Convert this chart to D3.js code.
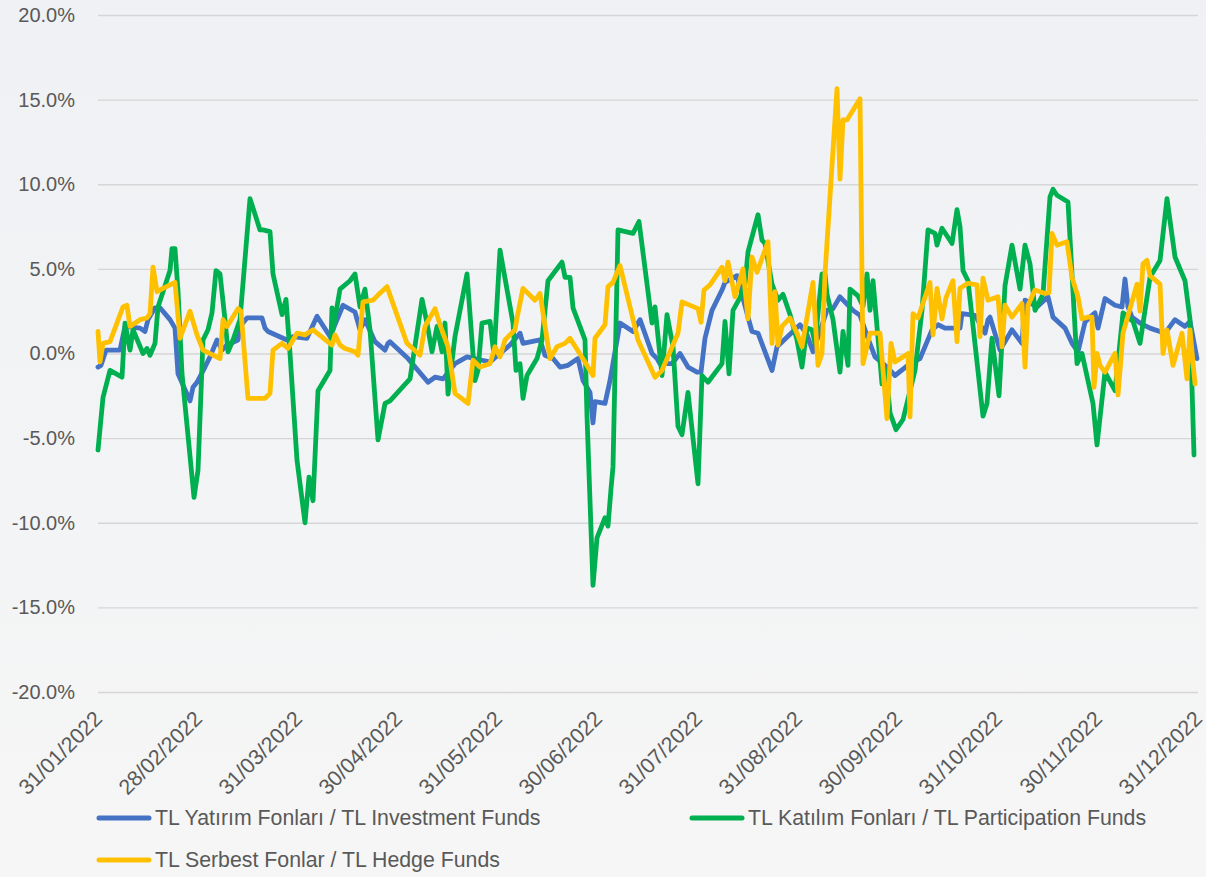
<!DOCTYPE html>
<html><head><meta charset="utf-8">
<script src="https://cdn.jsdelivr.net/npm/d3@7"></script>
<style>
html,body{margin:0;padding:0;background:#f3f4f6;}
svg{display:block;font-family:"Liberation Sans",Arial,sans-serif;}
</style></head>
<body><div id="chart"></div>
<script>
// x positions are in months since 31/01/2022 (0 = 31/01, 11 = 31/12), values in %
const xTickLabels = ["31/01/2022","28/02/2022","31/03/2022","30/04/2022","31/05/2022","30/06/2022","31/07/2022","31/08/2022","30/09/2022","31/10/2022","30/11/2022","31/12/2022"];
const yTicks = [-20,-15,-10,-5,0,5,10,15,20];
const seriesNames = ["TL Yatırım Fonları / TL Investment Funds","TL Katılım Fonları / TL Participation Funds","TL Serbest Fonlar / TL Hedge Funds"];

const investment = [[0,-0.8],[0.03,-0.7],[0.08,0.2],[0.22,0.2],[0.27,1.6],[0.42,1.5],[0.47,1.3],[0.50,2.0],[0.57,2.7],[0.62,2.7],[0.72,2.0],[0.77,1.5],[0.80,-1.2],[0.92,-2.8],[0.95,-2.0],[0.99,-1.7],[1.07,-0.8],[1.12,-0.2],[1.19,0.8],[1.24,0.2],[1.29,0.5],[1.40,0.8],[1.42,1.6],[1.49,2.1],[1.64,2.1],[1.67,1.5],[1.70,1.3],[1.89,0.8],[1.95,1.0],[2.09,0.9],[2.19,2.2],[2.32,1.0],[2.45,2.85],[2.57,2.45],[2.62,1.4],[2.67,2.0],[2.77,0.7],[2.87,0.2],[2.90,0.6],[2.92,0.7],[3.10,-0.3],[3.30,-1.7],[3.37,-1.4],[3.45,-1.5],[3.57,-0.6],[3.69,-0.2],[3.84,-0.4],[3.92,-0.5],[4.02,0],[4.12,0.5],[4.22,1.2],[4.25,0.6],[4.42,0.8],[4.47,-0.1],[4.55,-0.3],[4.62,-0.8],[4.70,-0.7],[4.80,-0.3],[4.85,-1.6],[4.92,-2.3],[4.95,-4.1],[4.97,-2.85],[5.07,-2.95],[5.12,-1.6],[5.22,1.8],[5.35,1.3],[5.42,2.0],[5.54,0],[5.59,-0.3],[5.62,-0.6],[5.74,-0.6],[5.82,0],[5.90,-0.8],[5.99,-1.1],[6.03,-1.1],[6.07,0.9],[6.14,2.55],[6.24,3.75],[6.27,4.2],[6.39,4.6],[6.50,2.15],[6.54,1.3],[6.60,1.2],[6.74,-1.0],[6.79,0.4],[7.02,1.7],[7.09,1.1],[7.15,0.1],[7.29,2.55],[7.35,2.65],[7.42,3.35],[7.55,2.55],[7.62,2.25],[7.70,0.9],[7.77,-0.2],[7.89,-0.8],[7.97,-1.3],[8.12,-0.6],[8.22,-0.3],[8.34,1.4],[8.40,1.7],[8.47,1.5],[8.62,1.5],[8.64,2.35],[8.77,2.25],[8.87,1.2],[8.90,2.0],[8.92,2.15],[9.02,0.2],[9.14,1.4],[9.24,0.6],[9.27,3.15],[9.39,2.75],[9.50,3.35],[9.55,2.15],[9.67,1.5],[9.74,0.6],[9.80,0.1],[9.87,1.85],[9.92,2.15],[9.97,2.4],[10.00,1.5],[10.07,3.25],[10.17,2.85],[10.24,2.75],[10.27,4.4],[10.30,2.75],[10.34,2.15],[10.42,1.8],[10.52,1.5],[10.67,1.2],[10.77,2.0],[10.87,1.6],[10.92,1.9],[10.99,-0.3]];

const participation = [[0,-5.7],[0.05,-2.6],[0.12,-1.0],[0.24,-1.4],[0.27,1.8],[0.32,0.2],[0.35,1.4],[0.45,0.0],[0.49,0.3],[0.52,-0.1],[0.57,0.6],[0.60,2.75],[0.72,4.9],[0.74,6.2],[0.77,6.2],[0.80,3.7],[0.84,-1.2],[0.96,-8.5],[1.00,-6.9],[1.05,0.8],[1.10,1.4],[1.14,2.4],[1.18,4.9],[1.22,4.7],[1.27,2.0],[1.30,0.1],[1.35,0.8],[1.42,2.0],[1.52,9.15],[1.62,7.3],[1.65,7.3],[1.72,7.2],[1.75,4.7],[1.84,2.3],[1.88,3.2],[1.92,0],[1.99,-6.3],[2.07,-10.0],[2.11,-7.3],[2.15,-8.7],[2.20,-2.2],[2.32,-1.0],[2.34,2.7],[2.35,1.4],[2.42,3.8],[2.52,4.3],[2.57,4.7],[2.62,2.75],[2.67,3.8],[2.72,1.4],[2.80,-5.1],[2.87,-2.95],[2.92,-2.8],[3.12,-1.5],[3.24,3.2],[3.29,1.8],[3.34,0.1],[3.39,1.6],[3.44,0.1],[3.47,1.8],[3.50,-2.4],[3.57,1.0],[3.69,4.7],[3.77,-1.6],[3.80,-1.0],[3.84,1.8],[3.92,1.9],[3.96,-0.1],[4.02,6.1],[4.15,1.8],[4.18,-1.0],[4.22,-0.6],[4.25,-2.65],[4.29,-1.3],[4.39,-0.3],[4.44,0.8],[4.50,4.3],[4.64,5.4],[4.67,4.5],[4.72,4.5],[4.75,2.7],[4.87,0.8],[4.89,-3.7],[4.95,-13.7],[4.99,-10.9],[5.07,-9.7],[5.10,-10.2],[5.13,-8.0],[5.15,-6.7],[5.20,7.3],[5.35,7.1],[5.41,7.8],[5.54,1.8],[5.57,2.75],[5.64,-1.3],[5.69,2.3],[5.75,0.4],[5.80,-4.3],[5.84,-4.8],[5.90,-2.3],[6.00,-7.7],[6.04,-1.3],[6.10,-1.7],[6.24,-0.6],[6.27,1.9],[6.31,-1.2],[6.35,2.55],[6.42,3.3],[6.47,4.1],[6.50,6.0],[6.60,8.2],[6.64,6.7],[6.67,6.5],[6.74,4.1],[6.80,3.15],[6.85,3.5],[6.92,2.3],[6.99,0.8],[7.04,-0.8],[7.09,1.5],[7.14,1.4],[7.17,0.6],[7.24,4.7],[7.27,4.7],[7.29,3.5],[7.35,2.0],[7.42,-1.1],[7.45,1.3],[7.50,-0.7],[7.52,3.8],[7.60,3.4],[7.65,2.8],[7.69,4.7],[7.72,2.55],[7.75,4.3],[7.84,-1.8],[7.88,-1.0],[7.92,-3.5],[7.98,-4.5],[8.05,-3.9],[8.17,-1.0],[8.24,2.55],[8.30,7.3],[8.37,7.1],[8.39,6.4],[8.44,7.4],[8.54,6.5],[8.59,8.5],[8.62,7.5],[8.65,4.9],[8.70,4.3],[8.85,-3.7],[8.89,-2.95],[8.94,0.9],[9.01,-2.5],[9.07,4.0],[9.14,6.4],[9.22,3.8],[9.27,6.4],[9.32,5.3],[9.37,2.55],[9.45,3.5],[9.52,9.25],[9.55,9.7],[9.59,9.35],[9.70,8.95],[9.79,-0.6],[9.84,0],[9.95,-2.95],[9.99,-5.4],[10.07,-1.1],[10.17,-2.2],[10.25,2.4],[10.35,1.9],[10.42,0.6],[10.52,4.5],[10.62,5.5],[10.69,9.15],[10.77,5.7],[10.87,4.3],[10.92,2.0],[10.96,-6.0]];

const hedge = [[0,1.3],[0.02,-0.5],[0.05,0.6],[0.12,0.7],[0.25,2.75],[0.29,2.85],[0.32,1.6],[0.42,2.0],[0.49,2.1],[0.52,2.35],[0.55,5.1],[0.59,3.65],[0.65,3.85],[0.77,4.2],[0.82,0.9],[0.92,2.5],[0.99,1.1],[1.05,0.2],[1.22,-0.3],[1.25,2.0],[1.29,1.6],[1.40,2.65],[1.43,2.5],[1.50,-2.65],[1.67,-2.65],[1.72,-2.35],[1.75,0.2],[1.84,0.6],[1.90,0.3],[1.99,1.2],[2.07,1.1],[2.15,1.4],[2.34,0.5],[2.37,1.1],[2.42,0.5],[2.47,0.3],[2.57,0.1],[2.60,-0.1],[2.65,3.05],[2.75,3.15],[2.80,3.45],[2.89,3.95],[3.09,0.6],[3.22,-0.1],[3.27,1.6],[3.37,2.65],[3.42,1.7],[3.50,0.4],[3.57,-2.35],[3.70,-2.95],[3.75,-0.4],[3.82,-0.8],[3.92,-0.6],[3.97,0.4],[4.02,-0.2],[4.07,0.8],[4.17,1.4],[4.19,2.1],[4.25,3.85],[4.37,3.15],[4.42,3.55],[4.52,-0.3],[4.59,0.4],[4.67,0.6],[4.72,0.9],[4.87,-0.5],[4.95,-1.3],[4.97,0.9],[5.07,1.7],[5.10,3.95],[5.15,4.2],[5.22,5.2],[5.40,0.8],[5.57,-1.4],[5.64,-1.0],[5.80,1.2],[5.84,3.05],[6.00,2.65],[6.03,1.85],[6.06,3.75],[6.12,4.05],[6.24,5.1],[6.27,4.3],[6.30,5.4],[6.37,3.35],[6.45,5.0],[6.50,2.05],[6.54,5.7],[6.59,4.8],[6.70,6.6],[6.74,0.6],[6.77,3.65],[6.80,0.5],[6.84,1.6],[6.92,2.1],[6.99,1.2],[7.04,0.4],[7.15,4.2],[7.20,-0.7],[7.24,0.0],[7.27,4.7],[7.39,15.65],[7.42,10.3],[7.45,13.8],[7.49,13.8],[7.62,15.05],[7.65,-0.6],[7.72,1.2],[7.82,1.2],[7.89,-3.85],[7.93,0.6],[7.97,-0.5],[8.05,-0.2],[8.10,0.0],[8.12,-3.75],[8.15,2.35],[8.20,2.1],[8.32,4.2],[8.35,1.1],[8.39,3.85],[8.44,2.05],[8.48,3.3],[8.55,4.3],[8.59,0.7],[8.62,3.85],[8.70,4.15],[8.79,4.05],[8.82,1.0],[8.85,4.45],[8.90,3.15],[9.00,3.35],[9.04,0.4],[9.07,2.85],[9.14,2.15],[9.24,2.95],[9.27,-0.8],[9.30,2.85],[9.37,3.75],[9.47,3.55],[9.51,3.6],[9.54,7.1],[9.59,6.4],[9.69,6.6],[9.74,4.5],[9.80,3.35],[9.84,2.05],[9.90,2.15],[9.94,2.15],[9.96,-2.0],[9.99,0.0],[10.02,-0.7],[10.07,-1.1],[10.17,0],[10.20,-2.45],[10.25,1.2],[10.39,4.1],[10.42,2.5],[10.45,5.3],[10.49,5.5],[10.52,4.6],[10.62,4.1],[10.65,0],[10.69,1.4],[10.75,-0.7],[10.84,1.2],[10.89,-1.5],[10.92,1.4],[10.97,-1.8]];

const colors = ["#4472C4","#00B050","#FFC000"];

const W = 1206, H = 877;
const svg = d3.select("#chart").append("svg").attr("width", W).attr("height", H);

const defs = svg.append("defs");
const grad = defs.append("linearGradient").attr("id","bg").attr("x1",0).attr("y1",0).attr("x2",0).attr("y2",1);
grad.append("stop").attr("offset","0%").attr("stop-color","#eff1f4");
grad.append("stop").attr("offset","100%").attr("stop-color","#f6f6f6");
svg.append("rect").attr("width",W).attr("height",H).attr("fill","url(#bg)");

const x = d3.scaleLinear().domain([0, xTickLabels.length - 1]).range([98, 1198]);
const y = d3.scaleLinear().domain([-20, 20]).range([692, 15]);

const fmt = d3.formatLocale({decimal: ".", thousands: ",", grouping: [3], currency: ["", ""], minus: "-"}).format(".1f");

// gridlines + y labels
const yAxis = d3.axisLeft(y).tickValues(yTicks).tickSize(-(1198 - 98)).tickFormat(d => fmt(d) + "%");
const gy = svg.append("g").attr("transform", "translate(98,0)").call(yAxis);
gy.select(".domain").remove();
gy.selectAll(".tick line").attr("stroke", "#d6d6d6").attr("stroke-width", 1.3);
gy.selectAll(".tick text").attr("x", -23).attr("fill", "#595959")
  .style("font-size", "20px").style("font-family", '"Liberation Sans",Arial,sans-serif');

// x labels
const xAxis = d3.axisBottom(x).tickValues(d3.range(xTickLabels.length)).tickSize(0).tickFormat(i => xTickLabels[i]);
const gx = svg.append("g").attr("transform", "translate(0,692)").call(xAxis);
gx.select(".domain").remove();
gx.selectAll(".tick text")
  .attr("fill", "#595959")
  .style("font-size", "21.5px").style("font-family", '"Liberation Sans",Arial,sans-serif')
  .attr("text-anchor", "end")
  .attr("dy", null).attr("y", null)
  .attr("transform", "translate(5,28) rotate(-45)");

// lines
const line = d3.line().x(d => x(d[0])).y(d => y(d[1]));
const allSeries = [investment, participation, hedge];
svg.append("g").selectAll("path").data(allSeries).join("path")
  .attr("d", line).attr("fill", "none")
  .attr("stroke", (d, i) => colors[i]).attr("stroke-width", 4.8)
  .attr("stroke-linejoin", "round").attr("stroke-linecap", "round");

// legend
const legendPos = [[97, 818], [690, 818], [97, 860]];
const lg = svg.append("g").selectAll("g").data(seriesNames).join("g")
  .attr("transform", (d, i) => `translate(${legendPos[i][0]},${legendPos[i][1]})`);
lg.append("line").attr("x1", 2).attr("x2", 52).attr("y1", 0).attr("y2", 0)
  .attr("stroke", (d, i) => colors[i]).attr("stroke-width", 5).attr("stroke-linecap", "round");
lg.append("text").attr("x", 58).attr("y", 0).attr("dy", "0.35em")
  .attr("fill", "#595959").style("font-size", "21.3px")
  .text(d => d);
</script>
</body></html>
